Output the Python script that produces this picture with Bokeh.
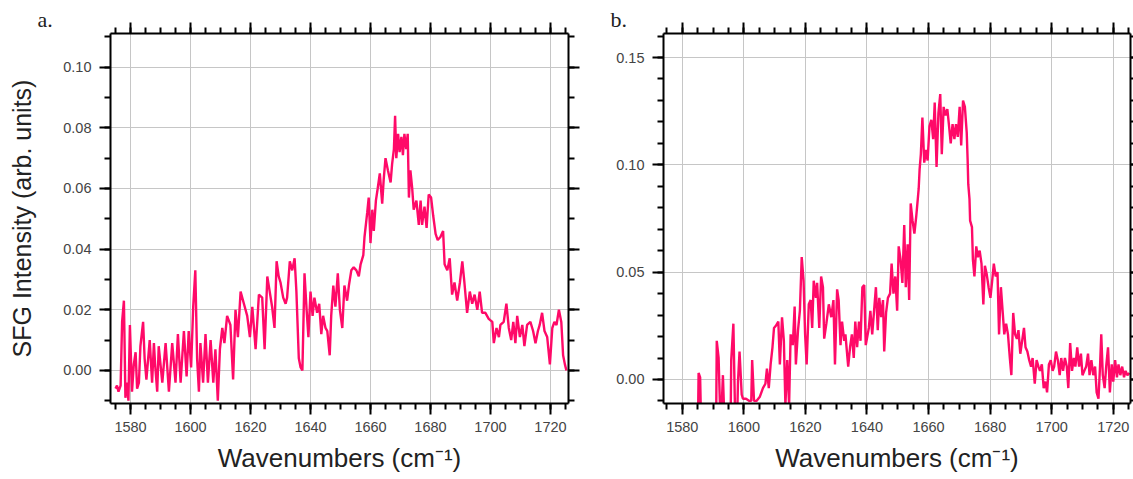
from bokeh.plotting import figure
from bokeh.models import (FixedTicker, LinearAxis, NumeralTickFormatter, Title, Range1d)
from bokeh.layouts import row
from bokeh.embed import file_html
from bokeh.resources import INLINE

# ---------------- data ----------------
a_wn = [1575.0, 1575.5, 1576.0, 1576.7, 1577.2, 1577.8, 1578.3, 1578.9, 1579.3, 1579.8,
        1580.5, 1581.1, 1581.7, 1582.2, 1582.8, 1583.3, 1584.2, 1584.7, 1585.3, 1586.4,
        1587.2, 1587.8, 1588.2, 1588.9, 1589.4, 1590.6, 1591.7, 1592.8, 1593.9, 1595.0,
        1595.8, 1596.7, 1597.8, 1598.7, 1599.4, 1600.2, 1600.9, 1601.6, 1602.2, 1602.8,
        1603.3, 1604.2, 1605.0, 1605.8, 1606.7, 1607.6, 1608.3, 1609.1, 1609.8, 1610.6,
        1611.3, 1612.2, 1613.3, 1614.2, 1615.0, 1615.8, 1616.7, 1617.8, 1618.9, 1619.8,
        1620.6, 1621.7, 1622.8, 1623.9, 1624.7, 1625.6, 1626.4, 1627.2, 1628.0, 1628.7,
        1629.4, 1630.0, 1630.9, 1631.7, 1632.2, 1633.1, 1633.9, 1634.7, 1635.3, 1636.1,
        1636.7, 1637.3, 1638.0, 1638.7, 1639.3, 1640.0, 1640.7, 1641.3, 1642.2, 1642.9,
        1643.6, 1644.2, 1645.0, 1645.6, 1646.4, 1646.9, 1647.6, 1648.3, 1649.1, 1649.8,
        1650.6, 1651.3, 1652.2, 1652.8, 1653.6, 1654.4, 1655.3, 1656.1, 1656.7, 1657.6,
        1658.0, 1658.9, 1659.4, 1660.0, 1660.6, 1661.1, 1661.8, 1662.4, 1663.1, 1663.9,
        1664.4, 1665.0, 1665.8, 1666.7, 1667.2, 1667.8, 1668.2, 1668.6, 1669.2, 1669.7,
        1670.3, 1670.8, 1671.3, 1671.9, 1672.4, 1672.8, 1673.3, 1673.9, 1674.4, 1675.3,
        1676.1, 1676.7, 1677.2, 1678.0, 1678.7, 1679.4, 1680.2, 1680.9, 1681.7, 1682.4,
        1683.3, 1684.2, 1684.7, 1685.6, 1686.4, 1687.2, 1688.0, 1688.9, 1689.8, 1690.6,
        1691.3, 1692.2, 1693.1, 1693.9, 1694.7, 1695.6, 1696.4, 1697.2, 1698.3, 1699.4,
        1700.6, 1701.1, 1702.0, 1702.8, 1703.3, 1704.4, 1705.3, 1706.1, 1706.9, 1707.6,
        1708.3, 1708.9, 1709.8, 1710.6, 1711.3, 1712.2, 1713.3, 1714.2, 1715.0, 1715.8,
        1716.4, 1717.2, 1718.0, 1718.9, 1719.8, 1720.6, 1721.3, 1722.0, 1722.8, 1723.6,
        1724.2, 1724.8, 1725.3]
a_sfg = [-0.006, -0.005, -0.007, -0.005, 0.016, 0.023, -0.009, -0.004, -0.010, 0.015,
         -0.007, 0.002, 0.006, -0.006, -0.004, 0.008, 0.016, 0.004, -0.003, 0.010,
         -0.004, 0.009, 0.002, -0.007, 0.008, -0.004, 0.009, -0.007, 0.009, -0.004,
         0.012, -0.004, 0.013, -0.002, 0.013, 0.001, 0.021, 0.033, 0.004, -0.007,
         0.009, -0.004, 0.012, -0.004, 0.010, -0.004, 0.007, -0.010, 0.007, 0.014,
         0.009, 0.018, 0.015, -0.003, 0.020, 0.011, 0.026, 0.022, 0.018, 0.011,
         0.021, 0.007, 0.025, 0.024, 0.007, 0.031, 0.026, 0.021, 0.014, 0.036,
         0.031, 0.029, 0.024, 0.022, 0.024, 0.036, 0.033, 0.037, 0.026, 0.004,
         0.001, 0.000, 0.032, 0.020, 0.011, 0.026, 0.018, 0.024, 0.019, 0.022,
         0.012, 0.018, 0.014, 0.013, 0.005, 0.018, 0.028, 0.021, 0.032, 0.020,
         0.014, 0.028, 0.023, 0.028, 0.033, 0.034, 0.033, 0.031, 0.035, 0.038,
         0.044, 0.052, 0.057, 0.042, 0.053, 0.046, 0.056, 0.060, 0.065, 0.055,
         0.063, 0.070, 0.066, 0.062, 0.068, 0.073, 0.084, 0.070, 0.078, 0.072,
         0.077, 0.071, 0.078, 0.073, 0.078, 0.057, 0.066, 0.060, 0.053, 0.056,
         0.048, 0.056, 0.048, 0.054, 0.047, 0.058, 0.057, 0.051, 0.045, 0.043,
         0.044, 0.046, 0.035, 0.033, 0.037, 0.025, 0.029, 0.023, 0.029, 0.036,
         0.029, 0.019, 0.026, 0.022, 0.025, 0.020, 0.026, 0.019, 0.019, 0.017,
         0.016, 0.009, 0.014, 0.011, 0.015, 0.016, 0.022, 0.014, 0.010, 0.016,
         0.009, 0.018, 0.011, 0.015, 0.008, 0.015, 0.016, 0.013, 0.009, 0.013,
         0.015, 0.019, 0.013, 0.011, 0.002, 0.014, 0.016, 0.015, 0.020, 0.016,
         0.005, 0.002, 0.000]

b_wn = [1575.0, 1585.1, 1585.3, 1585.8, 1586.1, 1591.0, 1591.2, 1591.8, 1592.4, 1592.6,
        1593.2, 1593.7, 1595.7, 1595.9, 1596.6, 1597.2, 1597.8, 1598.1, 1598.6, 1599.3,
        1599.7, 1600.7, 1601.8, 1602.4, 1602.7, 1603.3, 1604.1, 1605.2, 1606.2, 1607.0,
        1607.5, 1608.1, 1608.7, 1609.3, 1609.8, 1610.4, 1611.2, 1611.7, 1612.4, 1613.0,
        1613.5, 1614.1, 1614.7, 1615.2, 1615.9, 1616.5, 1616.9, 1617.6, 1618.2, 1618.8,
        1619.4, 1619.9, 1620.4, 1621.1, 1621.7, 1622.2, 1622.7, 1623.4, 1623.8, 1624.5,
        1625.1, 1625.7, 1626.1, 1626.8, 1627.6, 1628.4, 1629.1, 1629.6, 1630.3, 1630.8,
        1631.4, 1631.9, 1632.6, 1633.0, 1633.9, 1634.5, 1635.1, 1635.7, 1636.2, 1636.8,
        1637.4, 1637.9, 1638.5, 1639.1, 1639.6, 1640.6, 1641.1, 1641.7, 1642.3, 1642.9,
        1643.5, 1644.0, 1644.6, 1645.2, 1645.6, 1646.2, 1646.8, 1647.5, 1648.0, 1648.6,
        1649.2, 1649.8, 1650.3, 1650.9, 1651.5, 1652.1, 1652.6, 1653.2, 1653.7, 1654.2,
        1654.8, 1655.4, 1656.0, 1656.5, 1656.8, 1657.1, 1657.5, 1658.0, 1658.6, 1659.2,
        1659.7, 1660.3, 1660.9, 1661.5, 1662.0, 1662.6, 1663.2, 1663.8, 1664.3, 1664.9,
        1665.5, 1666.1, 1666.6, 1667.2, 1667.8, 1668.4, 1668.9, 1669.5, 1670.1, 1670.6,
        1671.2, 1671.8, 1672.4, 1672.7, 1672.9, 1673.3, 1673.5, 1674.1, 1674.4, 1674.9,
        1675.5, 1676.0, 1676.6, 1677.2, 1677.8, 1678.3, 1678.9, 1679.5, 1680.1, 1680.6,
        1681.2, 1681.8, 1682.4, 1682.9, 1683.5, 1684.1, 1684.6, 1685.2, 1685.8, 1686.4,
        1686.9, 1687.5, 1688.1, 1688.7, 1689.2, 1689.8, 1690.4, 1691.0, 1691.5, 1692.1,
        1692.7, 1693.3, 1693.8, 1694.5, 1695.1, 1695.7, 1696.2, 1696.8, 1697.4, 1698.0,
        1698.5, 1699.1, 1699.7, 1700.3, 1700.8, 1701.4, 1702.0, 1702.6, 1703.1, 1703.7,
        1704.3, 1704.9, 1705.4, 1706.0, 1706.6, 1707.2, 1707.7, 1708.3, 1708.9, 1709.5,
        1710.0, 1710.6, 1711.2, 1711.8, 1712.3, 1712.9, 1713.5, 1714.1, 1714.6, 1715.2,
        1715.7, 1716.1, 1716.6, 1717.2, 1717.7, 1718.3, 1718.9, 1719.5, 1720.0, 1720.6,
        1721.2, 1721.7, 1722.3, 1722.9, 1723.5, 1724.0, 1724.6, 1725.2]
b_sfg = [-0.020, -0.020, 0.003, 0.001, -0.020, -0.020, 0.018, 0.010, -0.020, -0.020,
         0.002, -0.020, -0.020, 0.009, 0.026, -0.020, -0.020, -0.001, 0.013, -0.007,
         -0.009, -0.009, -0.010, -0.010, 0.009, -0.010, -0.010, -0.008, -0.004, -0.002,
         0.005, -0.004, 0.007, 0.015, 0.024, 0.025, 0.027, 0.007, 0.029, 0.018,
         -0.012, 0.009, -0.012, 0.021, 0.016, 0.034, 0.007, 0.023, 0.032, 0.057,
         0.046, 0.021, 0.007, 0.035, 0.037, 0.024, 0.046, 0.038, 0.045, 0.024,
         0.048, 0.043, 0.019, 0.026, 0.035, 0.029, 0.037, 0.007, 0.042, 0.037,
         0.016, 0.027, 0.018, 0.021, 0.006, 0.015, 0.021, 0.010, 0.027, 0.015,
         0.027, 0.018, 0.043, 0.044, 0.016, 0.024, 0.032, 0.021, 0.032, 0.043,
         0.023, 0.038, 0.029, 0.037, 0.013, 0.031, 0.038, 0.040, 0.054, 0.040,
         0.048, 0.032, 0.062, 0.056, 0.045, 0.072, 0.043, 0.063, 0.037, 0.082,
         0.074, 0.068, 0.076, 0.084, 0.089, 0.098, 0.105, 0.122, 0.101, 0.107,
         0.102, 0.118, 0.121, 0.112, 0.129, 0.099, 0.124, 0.133, 0.105, 0.127,
         0.123, 0.126, 0.119, 0.110, 0.119, 0.112, 0.119, 0.113, 0.127, 0.109,
         0.130, 0.127, 0.115, 0.102, 0.091, 0.084, 0.074, 0.071, 0.056, 0.048,
         0.062, 0.057, 0.060, 0.054, 0.035, 0.053, 0.049, 0.043, 0.038, 0.045,
         0.054, 0.048, 0.050, 0.021, 0.043, 0.031, 0.021, 0.026, 0.021, 0.010,
         0.002, 0.031, 0.021, 0.019, 0.023, 0.012, 0.018, 0.024, 0.015, 0.013,
         0.009, 0.006, 0.010, -0.002, 0.009, 0.006, 0.004, 0.007, -0.004, -0.001,
         -0.006, 0.007, 0.009, 0.004, 0.006, 0.013, 0.009, 0.002, 0.010, 0.004,
         0.010, 0.006, -0.004, 0.017, 0.004, 0.010, 0.006, 0.015, 0.006, 0.012,
         0.002, 0.004, 0.006, 0.012, 0.002, 0.009, 0.002, 0.006, -0.006, -0.009,
         0.006, 0.021, 0.002, -0.004, 0.006, 0.015, -0.006, 0.007, -0.001, 0.009,
         0.001, 0.007, 0.002, 0.006, 0.001, 0.004, 0.002, 0.003]

x_major = [1580, 1600, 1620, 1640, 1660, 1680, 1700, 1720]
x_minor = [1575, 1580, 1585, 1590, 1595, 1600, 1605, 1610, 1615, 1620, 1625, 1630,
           1635, 1640, 1645, 1650, 1655, 1660, 1665, 1670, 1675, 1680, 1685, 1690,
           1695, 1700, 1705, 1710, 1715, 1720, 1725]
a_y_major = [0.00, 0.02, 0.04, 0.06, 0.08, 0.10]
a_y_minor = [-0.01, 0.00, 0.01, 0.02, 0.03, 0.04, 0.05, 0.06, 0.07, 0.08, 0.09, 0.10, 0.11]
b_y_major = [0.00, 0.05, 0.10, 0.15]
b_y_minor = [-0.01, 0.00, 0.01, 0.02, 0.03, 0.04, 0.05, 0.06, 0.07, 0.08, 0.09, 0.10,
             0.11, 0.12, 0.13, 0.14, 0.15, 0.16]

LINE = "#ff0a68"
TICK_FONT = "Liberation Sans"


def style_axis(ax, show_labels=True, tick_out=11, minor_out=6):
    ax.axis_line_width = 2
    ax.axis_line_color = "black"
    ax.major_tick_line_width = 2
    ax.minor_tick_line_width = 2
    ax.major_tick_line_color = "black"
    ax.minor_tick_line_color = "black"
    ax.major_tick_in = 0
    ax.minor_tick_in = 0
    ax.major_tick_out = tick_out
    ax.minor_tick_out = minor_out
    ax.major_label_text_font = TICK_FONT
    ax.major_label_text_color = "#444444"
    if show_labels:
        ax.major_label_text_font_size = "14.5px"
    else:
        ax.major_label_text_font_size = "0px"
        ax.major_label_standoff = 0


def panel(xs, ys, xr, yr, ymaj, ymin, yfmt, width, mb_left, mb_right, letter, letter_off,
          ylabel=None, right_tick_out=11, right_minor_out=6):
    p = figure(width=width, height=479, output_backend="svg", toolbar_location=None,
               x_range=Range1d(*xr), y_range=Range1d(*yr),
               x_axis_location=None, y_axis_location=None,
               min_border_left=mb_left, min_border_right=mb_right,
               min_border_top=33, min_border_bottom=76)
    p.outline_line_color = None
    p.background_fill_color = "white"
    p.border_fill_color = "white"

    xt = FixedTicker(ticks=x_major, minor_ticks=x_minor)
    yt = FixedTicker(ticks=ymaj, minor_ticks=ymin)

    bottom = LinearAxis(ticker=xt, axis_label="Wavenumbers (cm⁻¹)")
    style_axis(bottom)
    bottom.major_label_standoff = 7
    bottom.axis_label_standoff = 8
    bottom.axis_label_text_font = "Liberation Sans"
    bottom.axis_label_text_font_size = "26px"
    bottom.axis_label_text_font_style = "normal"
    bottom.axis_label_text_color = "#222222"
    p.add_layout(bottom, "below")

    top = LinearAxis(ticker=xt)
    style_axis(top, show_labels=False)
    p.add_layout(top, "above")

    left = LinearAxis(ticker=yt, formatter=NumeralTickFormatter(format=yfmt))
    style_axis(left)
    left.major_label_standoff = 8
    if ylabel:
        left.axis_label = ylabel
        left.axis_label_standoff = 24
        left.axis_label_text_font = "Liberation Sans"
        left.axis_label_text_font_size = "25px"
        left.axis_label_text_font_style = "normal"
        left.axis_label_text_color = "#222222"
    p.add_layout(left, "left")

    right = LinearAxis(ticker=yt)
    style_axis(right, show_labels=False, tick_out=right_tick_out, minor_out=right_minor_out)
    p.add_layout(right, "right")

    p.xgrid.ticker = xt
    p.ygrid.ticker = yt
    for g in (p.xgrid, p.ygrid):
        g.grid_line_color = "#c6c6c6"
        g.grid_line_width = 1

    p.line(xs, ys, line_color=LINE, line_width=2.4)

    p.add_layout(Title(text=letter, align="left", offset=letter_off, standoff=-19,
                       text_font="Liberation Serif", text_font_size="22px",
                       text_font_style="normal", text_color="#222222"), "above")
    return p


p1 = panel(a_wn, a_sfg, (1573.33, 1726.0), (-0.0109, 0.1111), a_y_major, a_y_minor, "0.00",
           600, 110, 32, "a.", -73, ylabel="SFG Intensity (arb. units)")
p2 = panel(b_wn, b_sfg, (1573.9, 1725.6), (-0.0112, 0.1612), b_y_major, b_y_minor, "0.00",
           533, 63, 3, "b.", -53, right_tick_out=3, right_minor_out=3)

layout = row(p1, p2)
open("out.html", "w").write(file_html(layout, INLINE))
